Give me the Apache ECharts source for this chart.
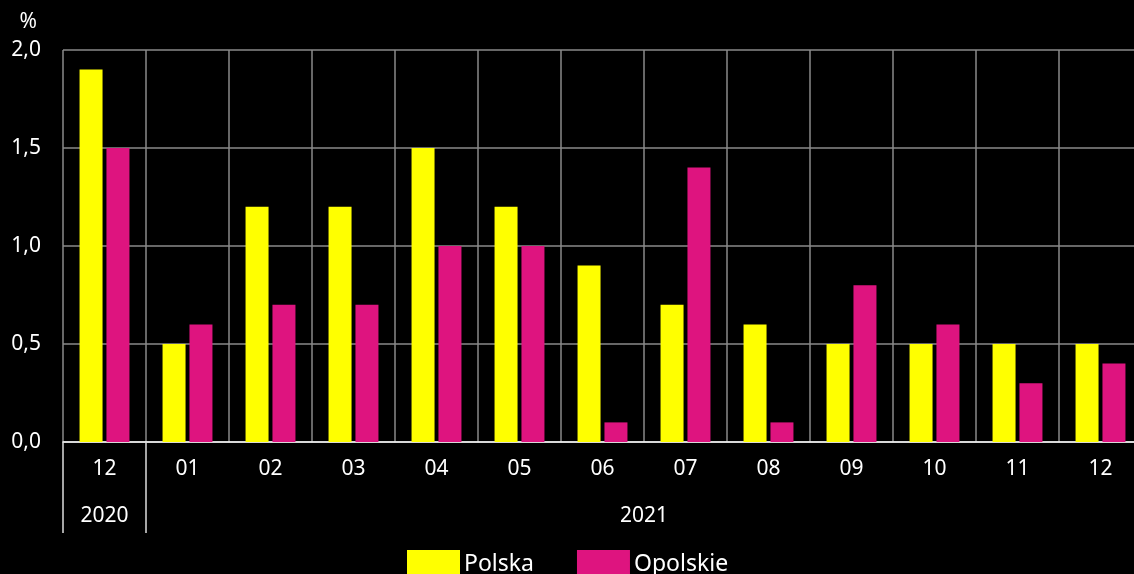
<!DOCTYPE html>
<html><head><meta charset="utf-8">
<script src="https://cdn.jsdelivr.net/npm/echarts@6/dist/echarts.min.js"></script>
<style>html,body{margin:0;padding:0;background:#000;}#c{width:1134px;height:574px;}</style>
</head><body><div id="c"></div>
<script>
const months = ['12','01','02','03','04','05','06','07','08','09','10','11','12'];
const years = ['2020','2021'];
const polska = [1.9, 0.5, 1.2, 1.2, 1.5, 1.2, 0.9, 0.7, 0.6, 0.5, 0.5, 0.5, 0.5];
const opolskie = [1.5, 0.6, 0.7, 0.7, 1.0, 1.0, 0.1, 1.4, 0.1, 0.8, 0.6, 0.3, 0.4];
const yTicks = [0, 0.5, 1, 1.5, 2];

const font = 'Noto Sans';
const fs = 21;
const chart = echarts.init(document.getElementById('c'));
chart.setOption({
  backgroundColor: '#000',
  animation: false,
  textStyle: {fontFamily: font},
  grid: {left: 63, top: 50, height: 392, width: 1079, outerBoundsMode: 'none', containLabel: false},
  legend: {
    top: 545, left: 402, itemWidth: 53, itemHeight: 28, itemGap: 43,
    icon: 'rect',
    textStyle: {color: '#fff', fontSize: 23, fontFamily: font, padding: [0, 0, 0, -1]},
    data: ['Polska', 'Opolskie']
  },
  xAxis: [{
    type: 'category', data: months,
    axisLine: {show: true, lineStyle: {color: '#fff', width: 1.5}},
    axisTick: {show: false},
    axisLabel: {color: '#fff', fontSize: fs, margin: 17},
    splitLine: {show: true, lineStyle: {color: '#8a8a8a', width: 1.5}}
  }, {
    type: 'value', min: 0, max: 13, position: 'bottom',
    axisLine: {show: false},
    splitLine: {show: false},
    axisTick: {show: true, customValues: [0, 1], length: 91, inside: false,
      lineStyle: {color: '#ddd', width: 1.5}},
    axisLabel: {show: true, customValues: [0.5, 7], color: '#fff', fontSize: fs, margin: 64,
      formatter: function (v) { return v < 1 ? years[0] : years[1]; }}
  }],
  yAxis: {
    type: 'value', min: yTicks[0], max: yTicks[yTicks.length - 1], interval: 0.5,
    name: '%', nameLocation: 'end', nameGap: 17,
    nameTextStyle: {color: '#fff', fontSize: fs, align: 'right', padding: [0, 26, 0, 0]},
    axisLine: {show: false}, axisTick: {show: false},
    axisLabel: {color: '#fff', fontSize: fs, margin: 22,
      formatter: function (v) { return v.toFixed(1).replace('.', ','); }},
    splitLine: {show: true, lineStyle: {color: '#8a8a8a', width: 1.5}}
  },
  series: [{
    name: 'Polska', type: 'bar', data: polska, barWidth: 23, barGap: '17%',
    itemStyle: {color: '#ffff00'}
  }, {
    name: 'Opolskie', type: 'bar', data: opolskie, barWidth: 23,
    itemStyle: {color: '#de147f'}
  }]
});
</script></body></html>
